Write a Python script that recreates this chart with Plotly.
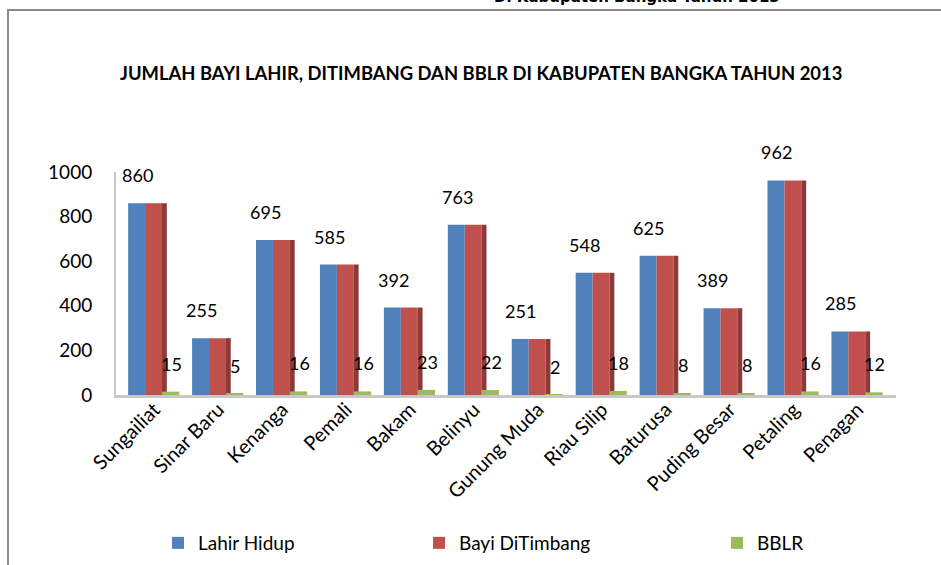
import plotly.graph_objects as go

categories = ["Sungailiat", "Sinar Baru", "Kenanga", "Pemali", "Bakam", "Belinyu",
              "Gunung Muda", "Riau Silip", "Baturusa", "Puding Besar", "Petaling", "Penagan"]
lahir_hidup = [860, 255, 695, 585, 392, 763, 251, 548, 625, 389, 962, 285]
bayi_ditimbang = [860, 255, 695, 585, 392, 763, 251, 548, 625, 389, 962, 285]
bblr = [15, 5, 16, 16, 23, 22, 2, 18, 8, 8, 16, 12]
y_ticks = [0, 200, 400, 600, 800, 1000]

BLUE = "#4F81BD"
RED = "#C0504D"
RED_SIDE = "#8B3A37"
GREEN = "#9BBB59"
FONT = "Lato"

W, H = 941, 565
L, R, T, B = 116, 45, 172, 170
plot_h = H - T - B
plot_w = W - L - R


def px_x(p):
    return (p - L) / plot_w


def px_y(p):
    return (H - B - p) / plot_h


fig = go.Figure()
fig.add_trace(go.Bar(x=categories, y=lahir_hidup, name="Lahir Hidup", marker_color=BLUE,
                     offset=-0.41, width=0.265, marker_line_width=0, legend="legend"))
fig.add_trace(go.Bar(x=categories, y=bayi_ditimbang, name="Bayi DiTimbang", marker_color=RED,
                     offset=-0.145, width=0.265, marker_line_width=0, legend="legend2"))
fig.add_trace(go.Bar(x=categories, y=bayi_ditimbang, showlegend=False, marker_color=RED_SIDE,
                     offset=0.12, width=0.075, marker_line_width=0, hoverinfo="skip"))
fig.add_trace(go.Bar(x=categories, y=bblr, name="BBLR", marker_color=GREEN,
                     offset=0.12, width=0.27, marker_line_width=0, legend="legend3"))

annotations = []
for c, v in zip(categories, lahir_hidup):
    annotations.append(dict(x=c, y=v, xref="x", yref="y", text=str(v), showarrow=False,
                            xshift=-17, yshift=28, font=dict(family=FONT, size=18, color="#000")))
for c, v in zip(categories, bblr):
    annotations.append(dict(x=c, y=v, xref="x", yref="y", text=str(v), showarrow=False,
                            xshift=17, yshift=28, font=dict(family=FONT, size=18, color="#000")))

# chart title
annotations.append(dict(x=px_x(481), y=px_y(73), xref="paper", yref="paper",
                        xanchor="center", yanchor="middle",
                        text="<b>JUMLAH BAYI LAHIR, DITIMBANG DAN BBLR DI KABUPATEN BANGKA TAHUN 2013</b>",
                        showarrow=False, font=dict(family=FONT, size=18.4, color="#000")))
# heading of the page above the chart box (cut off at the top edge, as in the source)
annotations.append(dict(x=px_x(637), y=px_y(-3), xref="paper", yref="paper",
                        yanchor="middle", xanchor="center",
                        text="<b>Di Kabupaten Bangka Tahun 2013</b>", showarrow=False,
                        font=dict(family="DejaVu Sans", size=15, color="#000")))

legend_common = dict(orientation="h", xanchor="left", yanchor="top", y=px_y(524),
                     font=dict(family=FONT, size=19, color="#000"), bgcolor="rgba(0,0,0,0)")

fig.update_layout(
    width=W, height=H,
    margin=dict(l=L, r=R, t=T, b=B, autoexpand=False),
    paper_bgcolor="white", plot_bgcolor="white",
    barmode="overlay",
    showlegend=True,
    legend=dict(x=px_x(158), **legend_common),
    legend2=dict(x=px_x(419), **legend_common),
    legend3=dict(x=px_x(717), **legend_common),
    annotations=annotations,
    shapes=[dict(type="rect", xref="paper", yref="paper",
                 x0=px_x(8), x1=1.2, y0=-1.2, y1=px_y(10),
                 line=dict(color="#8c8c8c", width=2), layer="below")],
    xaxis=dict(range=[-0.6, 11.6], showgrid=False, showline=True, linecolor="#c8c8c8",
               linewidth=3, tickangle=-45, ticks="", automargin=False,
               ticklabelstandoff=-8,
               tickfont=dict(family=FONT, size=20, color="#000")),
    yaxis=dict(range=[0, 1000], tickvals=y_ticks, showgrid=False, showline=True,
               linecolor="#c8c8c8", linewidth=2, ticks="outside", ticklen=18,
               tickcolor="rgba(0,0,0,0)", zeroline=False, automargin=False,
               tickfont=dict(family=FONT, size=19, color="#000")),
)

fig.write_html("out.html", config={"displayModeBar": False},
               post_script="document.body.style.margin='0';")
